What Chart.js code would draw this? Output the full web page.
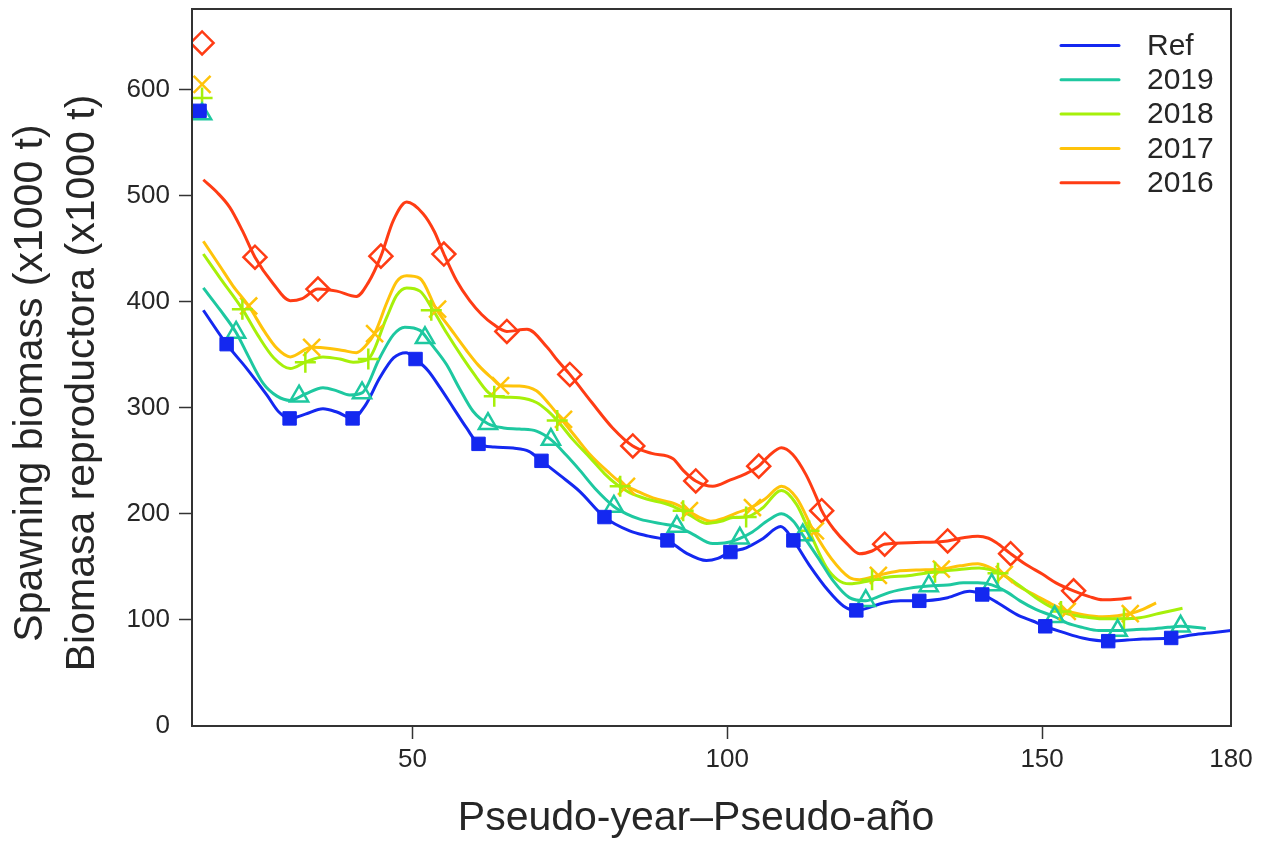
<!DOCTYPE html>
<html>
<head>
<meta charset="utf-8">
<script src="https://cdn.jsdelivr.net/npm/chart.js@4.4.1/dist/chart.umd.min.js"></script>
<style>
  html, body { margin: 0; padding: 0; background: #ffffff; }
  canvas { display: block; }
</style>
</head>
<body>
<canvas id="chart" width="1268" height="843"></canvas>
<script>
// Series names and axis ticks
const seriesNames = ['Ref', '2019', '2018', '2017', '2016'];
const xTicks = [50, 100, 150, 180];
const yTicks = [0, 100, 200, 300, 400, 500, 600];

// Spawning biomass trajectories, [pseudo-year, biomass (x1000 t)]
const refLine = [
  [16.8, 392], [20.5, 360], [23.7, 337], [26.9, 312], [28.8, 296], [30.5, 290], [33, 294], [35.8, 299], [38, 296],
  [40.5, 290], [42.5, 302], [44.8, 328], [47, 347], [49, 352], [50.5, 346], [52.5, 335], [54.4, 319],
  [56.5, 300], [58.6, 281], [60.5, 266], [63, 263], [66, 262], [68.5, 259], [70.5, 250], [73.5, 236],
  [76.6, 221], [80.5, 197], [84.5, 184], [87.5, 179], [90.5, 175], [93.5, 163], [96.7, 156], [98.5, 158],
  [100.5, 164], [103, 168], [105.5, 176], [108.5, 188], [110.5, 175], [113, 152], [116, 128], [118.5, 113],
  [120.5, 109], [124.8, 116], [127.5, 118], [130.5, 118], [135, 121], [138.5, 127], [140.5, 124], [143, 116],
  [146, 105], [148.5, 99], [150.5, 94], [153.5, 88], [156.4, 83], [160.5, 80], [163.5, 81], [166, 82],
  [170.5, 83], [174, 86], [177, 88], [180, 90]
];
const y2019Line = [
  [16.8, 413], [19.5, 392], [22, 371], [24, 348], [26.3, 323], [28.5, 311], [30.6, 307], [33, 313],
  [35.8, 319], [38, 316], [40, 312], [42, 314], [44.8, 347], [47, 369], [48.8, 376], [51.2, 373],
  [53, 360], [55.4, 341], [57.5, 318], [59.6, 297], [62, 285], [64.5, 281], [67, 280], [69.7, 278],
  [72, 270], [74.5, 255], [76.6, 241], [79, 224], [82, 207], [84, 200], [86.1, 195], [90.3, 190],
  [92, 188], [94.5, 181], [97.7, 172], [100, 173], [102, 177], [104, 183], [106.5, 194], [108.6, 200],
  [110.5, 193], [112, 180], [114.5, 158], [116.8, 137], [119.4, 121], [122, 118], [124, 122], [125.8, 126],
  [129, 130], [132, 132], [135, 133], [137.5, 135], [139.8, 135], [142, 133], [144.5, 126], [146.5, 118],
  [149, 110], [152, 103], [154, 97], [156.4, 93], [159, 90], [162, 90], [165, 91], [167, 91.5],
  [170, 93], [172, 94], [176, 92]
];
const y2018Line = [
  [16.8, 445], [19.5, 422], [23, 393], [25.5, 368], [28, 347], [30.6, 337], [33, 343], [35.8, 348],
  [38.5, 346], [40.6, 343], [43, 346], [45.9, 385], [47.5, 406], [49.1, 413], [51.2, 410], [53.3, 392],
  [55.5, 370], [58, 347], [60, 330], [61.8, 316], [63, 311], [65, 310], [67, 309.5], [69.7, 305],
  [71.5, 297], [73, 288], [75.5, 270], [78.2, 253], [80.5, 238], [82.4, 228], [84.5, 220], [87.2, 214],
  [90, 210], [91.4, 207], [94, 199], [96.7, 191], [99, 193], [100.9, 196.5], [103, 197], [105.5, 205],
  [108.6, 222], [111, 209], [113, 184], [115.7, 150], [117.5, 138], [119.4, 134], [122.6, 137], [125, 140],
  [129, 142], [132.6, 145], [136, 147], [140, 149], [143.7, 143], [146.5, 132], [149, 121], [151.5, 112],
  [153.9, 106], [156.5, 103], [159.6, 101], [162.5, 101], [165.5, 102], [168.5, 106], [172.3, 111]
];
const y2017Line = [
  [16.8, 457], [19.5, 433], [21.5, 415], [24, 396], [26.5, 372], [28.5, 356], [30.6, 348], [34, 357],
  [36.9, 356], [39, 354], [41.1, 352], [42.5, 358], [44, 370], [46, 400], [47.5, 419], [49.1, 424.5],
  [51.2, 422], [53.8, 393], [56, 375], [58.6, 354], [60.5, 340], [62.8, 327], [64, 321], [67, 320.5],
  [69.7, 316], [71.8, 303], [73.7, 289], [76, 272], [78.2, 256], [81, 240], [83.4, 228], [85.5, 222],
  [88.2, 215], [91.9, 209], [93.7, 203], [95.5, 197], [97.4, 193], [99.5, 196], [101.5, 201], [103.8, 206],
  [106, 214], [108.6, 226], [111, 215], [113.7, 184], [116.5, 158], [119.4, 140], [121, 138], [123.9, 142],
  [127, 146], [130, 147], [134, 148], [137, 151], [139.8, 153], [141.5, 150], [143.7, 143], [146.5, 131],
  [149, 123], [151.5, 115], [153.9, 108.5], [156.5, 105], [159.6, 103], [162, 104], [164, 106], [166, 110],
  [168.1, 116]
];
const y2016Line = [
  [16.8, 515], [19, 503], [21, 489], [23, 467], [25, 442], [27.9, 417], [30.6, 401], [32.5, 403],
  [35, 412], [38, 410], [41.1, 405], [43, 418], [45, 443], [47, 477], [49.1, 494], [51.7, 483],
  [53.5, 466], [55, 445], [57, 420], [59.1, 401], [61, 388], [62.8, 379], [65, 372], [68.2, 374],
  [71.4, 357], [73, 345], [75, 331.5], [78.5, 305], [81.8, 281], [85, 264], [88, 257], [91.4, 252],
  [93, 241], [95, 231], [97.7, 226], [100.5, 232], [103, 238], [105, 245], [106.5, 254], [108.6, 262.4],
  [110.4, 256], [112.5, 237], [114.2, 215], [115, 203], [117, 185], [119, 172], [121, 162.4], [123, 165],
  [125, 171.4], [130, 173], [135, 174.5], [137.5, 177.5], [139.8, 179], [141.5, 177], [142.7, 173], [145, 162.5],
  [147.5, 152], [150.1, 143], [152.2, 135], [155, 127.4], [157.5, 122], [159.6, 119], [162, 119.5], [164.2, 121]
];

// Marked years for each run (the first one is the unfished starting level)
const refMarks = [
  [16.2, 580], [20.5, 360], [30.5, 290], [40.5, 290], [50.5, 346], [60.5, 266], [70.5, 250], [80.5, 197],
  [90.5, 175], [100.5, 164], [110.5, 175], [120.5, 109], [130.5, 118], [140.5, 124], [150.5, 94], [160.5, 80],
  [170.5, 83]
];
const y2019Marks = [
  [16.6, 577], [22, 371], [32, 311], [42, 314], [52, 366], [62, 285], [72, 270], [82, 207],
  [92, 188], [102, 177], [112, 180], [122, 118], [132, 132], [142, 133], [152, 103], [162, 90],
  [172, 94]
];
const y2018Marks = [
  [16.6, 592], [23, 393], [33, 343], [43, 346], [53, 392], [63, 311], [73, 288], [83, 226],
  [93, 203], [103, 197], [113, 184], [123, 138], [133, 145], [143, 144], [153, 108], [163, 101]
];
const y2017Marks = [
  [16.6, 605], [24, 396], [34, 357], [44, 370], [54, 393], [64, 321], [74, 289], [84, 226],
  [94, 203], [104, 206], [114, 184], [124, 142], [134, 148], [144, 143], [154, 108], [164, 106]
];
const y2016Marks = [
  [16.6, 644], [25, 442], [35, 412], [45, 443], [55, 445], [65, 372], [75, 331.5], [85, 264],
  [95, 231], [105, 245], [115, 203], [125, 171.4], [135, 174.5], [145, 162.5], [155, 127.4]
];

const lines = [refLine, y2019Line, y2018Line, y2017Line, y2016Line];
const marks = [refMarks, y2019Marks, y2018Marks, y2017Marks, y2016Marks];

// Styling
const colors = ['#1428f0', '#1ec8a0', '#a6f00a', '#ffc30a', '#ff3c14'];
const markerStyles = [
  { style: 'rect', radius: 9.5, filled: true },
  { style: 'triangle', radius: 10.5, filled: false },
  { style: 'cross', radius: 10.5, filled: false },
  { style: 'crossRot', radius: 12, filled: false },
  { style: 'rectRot', radius: 11.5, filled: false }
];
const FONT = '"Liberation Sans", Arial, Helvetica, sans-serif';
const TEXT = '#262626';
const AXIS = '#333333';

const toPoints = arr => arr.map(([x, y]) => ({ x, y }));

const datasets = [];
seriesNames.forEach((name, i) => {
  datasets.push({
    label: name,
    data: toPoints(lines[i]),
    showLine: true,
    borderColor: colors[i],
    borderWidth: 3,
    pointRadius: 0,
    pointHoverRadius: 0,
    cubicInterpolationMode: 'monotone',
    fill: false,
    order: 2
  });
  const m = markerStyles[i];
  datasets.push({
    label: name + ' marks',
    data: toPoints(marks[i]),
    showLine: false,
    pointStyle: m.style,
    pointRadius: m.radius,
    pointHoverRadius: m.radius,
    pointBorderColor: colors[i],
    pointBackgroundColor: m.filled ? colors[i] : 'rgba(0,0,0,0)',
    pointBorderWidth: m.filled ? 1 : 2.5,
    order: 1
  });
});

// Plot frame, axis titles and series key
const decorations = {
  id: 'decorations',
  afterDatasetsDraw(chart) {
    const { ctx, chartArea: a } = chart;
    ctx.save();
    ctx.strokeStyle = AXIS;
    ctx.lineWidth = 2;
    ctx.strokeRect(a.left, a.top, a.right - a.left, a.bottom - a.top);
    ctx.restore();
  },
  afterDraw(chart) {
    const { ctx } = chart;
    ctx.save();
    ctx.fillStyle = TEXT;
    ctx.font = '41px ' + FONT;
    ctx.textAlign = 'center';
    ctx.textBaseline = 'alphabetic';
    ctx.fillText('Pseudo-year\u2013Pseudo-a\u00f1o', 696, 830);

    ctx.save();
    ctx.translate(42, 383);
    ctx.rotate(-Math.PI / 2);
    ctx.fillText('Spawning biomass (x1000 t)', 0, 0);
    ctx.restore();
    ctx.save();
    ctx.translate(94, 383);
    ctx.rotate(-Math.PI / 2);
    ctx.fillText('Biomasa reproductora (x1000 t)', 0, 0);
    ctx.restore();

    // key
    ctx.font = '30px ' + FONT;
    ctx.textAlign = 'left';
    ctx.textBaseline = 'middle';
    seriesNames.forEach((name, i) => {
      const y = 45.5 + i * 34.3;
      ctx.strokeStyle = colors[i];
      ctx.lineWidth = 3;
      ctx.lineCap = 'round';
      ctx.beginPath();
      ctx.moveTo(1061, y);
      ctx.lineTo(1119, y);
      ctx.stroke();
      ctx.fillStyle = TEXT;
      ctx.fillText(name, 1147, y + 1);
    });
    ctx.restore();
  }
};

new Chart(document.getElementById('chart'), {
  type: 'scatter',
  data: { datasets },
  plugins: [decorations],
  options: {
    responsive: false,
    animation: false,
    devicePixelRatio: 1,
    events: [],
    layout: { autoPadding: false, padding: { left: 0, top: 9, right: 37, bottom: 0 } },
    plugins: {
      legend: { display: false },
      tooltip: { enabled: false }
    },
    scales: {
      x: {
        type: 'linear',
        min: 15,
        max: 180,
        afterBuildTicks: s => { s.ticks = xTicks.map(v => ({ value: v })); },
        afterFit: s => { s.height = 117; s.paddingLeft = 0; },
        border: { display: false },
        grid: {
          drawOnChartArea: false,
          drawTicks: true,
          tickLength: 13,
          tickWidth: 1.5,
          tickColor: c => (c.tick && c.tick.value === 180) ? 'rgba(0,0,0,0)' : AXIS
        },
        ticks: {
          font: { family: FONT, size: 26 },
          color: TEXT,
          padding: 5,
          maxRotation: 0,
          autoSkip: false
        }
      },
      y: {
        type: 'linear',
        min: 0,
        max: 676,
        afterBuildTicks: s => { s.ticks = yTicks.map(v => ({ value: v })); },
        afterFit: s => { s.width = 192; s.paddingTop = 0; s.paddingBottom = 0; },
        border: { display: false },
        grid: {
          drawOnChartArea: false,
          drawTicks: true,
          tickLength: 13,
          tickWidth: 1.5,
          tickColor: c => (c.tick && c.tick.value === 0) ? 'rgba(0,0,0,0)' : AXIS
        },
        ticks: {
          font: { family: FONT, size: 26 },
          color: TEXT,
          padding: 9,
          autoSkip: false
        }
      }
    }
  }
});
</script>
</body>
</html>
